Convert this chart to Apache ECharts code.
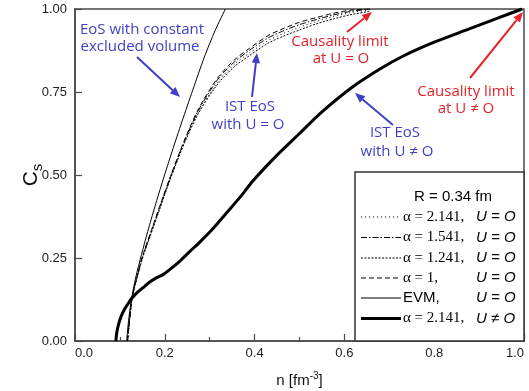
<!DOCTYPE html>
<html><head><meta charset="utf-8">
<script src="https://cdn.jsdelivr.net/npm/echarts@6/dist/echarts.min.js"></script>
<style>html,body{margin:0;padding:0;background:#fff}#c{width:529px;height:391px}</style>
</head><body><div id="c"></div>
<script>
// ---- data (n in fm^-3, c_s) ----
const xTicks = [0.0, 0.2, 0.4, 0.6, 0.8, 1.0];
const yTicks = [0.00, 0.25, 0.50, 0.75, 1.00];

const nThick  = [0.091, 0.093, 0.097, 0.103, 0.110, 0.118, 0.126, 0.140, 0.151, 0.165, 0.181, 0.196, 0.211, 0.233, 0.256, 0.278, 0.305, 0.337, 0.370, 0.396, 0.450, 0.500, 0.550, 0.618, 0.680, 0.729, 0.800, 0.878, 0.940, 0.996];
const csThick = [0.000, 0.025, 0.050, 0.075, 0.095, 0.112, 0.128, 0.148, 0.160, 0.176, 0.190, 0.200, 0.215, 0.240, 0.270, 0.298, 0.335, 0.385, 0.437, 0.482, 0.560, 0.625, 0.690, 0.765, 0.820, 0.857, 0.900, 0.940, 0.972, 1.000];

const nEVM  = [0.115, 0.117, 0.120, 0.126, 0.135, 0.148, 0.162, 0.178, 0.196, 0.216, 0.238, 0.262, 0.288, 0.312, 0.335];
const csEVM = [0.000, 0.030, 0.070, 0.128, 0.190, 0.260, 0.330, 0.405, 0.485, 0.570, 0.660, 0.755, 0.855, 0.935, 1.000];

const nIST    = [0.117, 0.119, 0.122, 0.127, 0.135, 0.150, 0.168, 0.190, 0.211, 0.244, 0.273, 0.300, 0.322, 0.356, 0.389, 0.430, 0.462, 0.500, 0.537, 0.575, 0.611, 0.656];
const csA2141 = [0.000, 0.030, 0.070, 0.128, 0.175, 0.250, 0.320, 0.405, 0.485, 0.600, 0.685, 0.745, 0.787, 0.835, 0.868, 0.905, 0.925, 0.945, 0.962, 0.977, 0.988, 0.998];
const csA1541 = [0.000, 0.030, 0.070, 0.128, 0.176, 0.252, 0.323, 0.408, 0.488, 0.603, 0.690, 0.752, 0.795, 0.842, 0.876, 0.913, 0.933, 0.953, 0.968, 0.982, 0.992, 1.000];
const csA1241 = [0.000, 0.030, 0.070, 0.128, 0.174, 0.248, 0.318, 0.402, 0.483, 0.597, 0.681, 0.740, 0.781, 0.828, 0.860, 0.897, 0.917, 0.937, 0.955, 0.970, 0.982, 0.993];
const csA1    = [0.000, 0.030, 0.070, 0.128, 0.177, 0.254, 0.325, 0.411, 0.490, 0.606, 0.694, 0.757, 0.800, 0.848, 0.882, 0.920, 0.940, 0.960, 0.974, 0.987, 0.996, 1.000];

const legendTitle = 'R = 0.34 fm';
const legendAlpha = ['α = 2.141,', 'α = 1.541,', 'α = 1.241,', 'α = 1,', 'EVM,', 'α = 2.141,'];
const legendU     = ['U = O', 'U = O', 'U = O', 'U = O', 'U = O', 'U ≠ O'];

// ---- chart ----
const pairs = (xs, ys) => xs.map((x, i) => [x, ys[i]]);
const BLUE = '#3f3fc8', RED = '#e3242b', AX = '#4a4a4a';

const dashes = [[1, 3], [6, 2, 1.5, 2], [2, 1.5], [5, 3], null, null];
const widths = [1, 1, 1, 1, 1, 3];

function mkLine(name, data, dash, width, z) {
  return {
    name, type: 'line', data, showSymbol: false, smooth: 0.25, z: z || 2,
    lineStyle: { color: '#000', width, type: dash || 'solid' },
    emphasis: { disabled: true }, silent: true, animation: false
  };
}

const chart = echarts.init(document.getElementById('c'));

function arrow(x1, y1, x2, y2, color) {
  const a = Math.atan2(y2 - y1, x2 - x1), L = 10, W = 4.2;
  const bx = x2 - L * Math.cos(a), by = y2 - L * Math.sin(a);
  const px = -Math.sin(a) * W, py = Math.cos(a) * W;
  return [
    { type: 'line', shape: { x1, y1, x2: bx, y2: by }, style: { stroke: color, lineWidth: 2 }, z: 20 },
    { type: 'polygon', shape: { points: [[x2, y2], [bx + px, by + py], [bx - px, by - py]] }, style: { fill: color }, z: 20 }
  ];
}
function note(x, y, text, color) {
  return { type: 'text', x, y, z: 20, style: { text, fill: color, font: '15px "Open Sans"', textAlign: 'center', textVerticalAlign: 'middle' } };
}

const graphics = [];
graphics.push(note(142, 30, 'EoS with constant', BLUE), note(140, 47, 'excluded volume', BLUE));
graphics.push(...arrow(137, 57, 180, 97, BLUE));
graphics.push(note(250, 107, 'IST EoS', BLUE), note(248, 125, 'with U = O', BLUE));
graphics.push(...arrow(252, 97, 257, 53, BLUE));
graphics.push(note(340, 42, 'Causality limit', RED), note(341, 59, 'at U = O', RED));
graphics.push(...arrow(347, 32, 372, 12, RED));
graphics.push(note(466, 92, 'Causality limit', RED), note(466, 109, 'at U ≠ O', RED));
graphics.push(...arrow(470, 78, 523, 12, RED));
graphics.push(note(395, 133, 'IST EoS', BLUE), note(397, 152, 'with U ≠ O', BLUE));
graphics.push(...arrow(393, 125, 355, 93, BLUE));

// legend box
graphics.push({ type: 'rect', shape: { x: 355, y: 172, width: 169, height: 169 }, style: { fill: '#fff', stroke: '#333', lineWidth: 1.5 }, z: 30 });
graphics.push({ type: 'text', x: 453, y: 197, z: 31, style: { text: legendTitle, fill: '#000', font: '15px "Liberation Sans"', textAlign: 'center', textVerticalAlign: 'middle' } });
const rowY = [217, 237.5, 258, 278, 298, 318.5];
legendAlpha.forEach((t, i) => {
  const y = rowY[i];
  graphics.push({ type: 'line', shape: { x1: 361, y1: y, x2: 401, y2: y }, z: 31,
    style: { stroke: '#000', lineWidth: widths[i], lineDash: dashes[i] || null } });
  const isEVM = t.startsWith('EVM');
  graphics.push({ type: 'text', x: 403, y, z: 31, style: { text: t, fill: '#000',
    font: isEVM ? '15px "Liberation Sans"' : '15px "Liberation Serif"', textAlign: 'left', textVerticalAlign: 'middle' } });
  graphics.push({ type: 'text', x: 476, y, z: 31, style: { text: legendU[i], fill: '#000',
    font: 'italic 15px "Liberation Sans"', textAlign: 'left', textVerticalAlign: 'middle' } });
});

chart.setOption({
  animation: false,
  backgroundColor: '#fff',
  grid: { left: 75, right: 5, top: 9, bottom: 50, show: true, borderColor: AX, borderWidth: 1.5, backgroundColor: 'transparent',
          containLabel: false, outerBoundsMode: 'none' },
  xAxis: {
    type: 'value', min: xTicks[0], max: xTicks[xTicks.length - 1], interval: 0.2,
    name: 'n [fm{sup|-3}]', nameLocation: 'middle', nameGap: 30, nameMoveOverlap: false,
    nameTextStyle: { fontFamily: 'Liberation Sans', fontSize: 15, color: '#111',
      rich: { sup: { fontSize: 10, verticalAlign: 'top', padding: [0, 0, 10, 0], fontFamily: 'Liberation Sans', color: '#111' } } },
    axisLine: { lineStyle: { color: AX, width: 1.5 } },
    axisTick: { inside: true, length: 7, lineStyle: { color: AX, width: 1.2 } },
    minorTick: { show: true, splitNumber: 2, length: 4, lineStyle: { color: AX, width: 1.2 } },
    axisLabel: { fontFamily: 'Liberation Sans', fontSize: 13, color: '#222', margin: 6, formatter: v => v.toFixed(1),
                 alignMinLabel: 'left', alignMaxLabel: 'right' },
    splitLine: { show: false }
  },
  yAxis: {
    type: 'value', min: yTicks[0], max: yTicks[yTicks.length - 1], interval: 0.25,
    name: 'C{sub|s}', nameLocation: 'middle', nameGap: 30, nameRotate: 90, nameMoveOverlap: false,
    nameTextStyle: { fontFamily: 'Liberation Sans', fontSize: 21, color: '#111',
      rich: { sub: { fontSize: 15, fontFamily: 'Liberation Sans', color: '#111', padding: [12, 0, 0, 0] } } },
    axisLine: { lineStyle: { color: AX, width: 1.5 } },
    axisTick: { inside: true, length: 7, lineStyle: { color: AX, width: 1.2 } },
    axisLabel: { fontFamily: 'Liberation Sans', fontSize: 13, color: '#222', margin: 8, formatter: v => v.toFixed(2) },
    splitLine: { show: false }
  },
  series: [
    mkLine('a2141', pairs(nIST, csA2141), dashes[0], 1),
    mkLine('a1541', pairs(nIST, csA1541), dashes[1], 1),
    mkLine('a1241', pairs(nIST, csA1241), dashes[2], 1),
    mkLine('a1', pairs(nIST, csA1), dashes[3], 1),
    mkLine('EVM', pairs(nEVM, csEVM), null, 1),
    mkLine('thick', pairs(nThick, csThick), null, 3, 3)
  ],
  graphic: graphics
});
</script>
</body></html>
